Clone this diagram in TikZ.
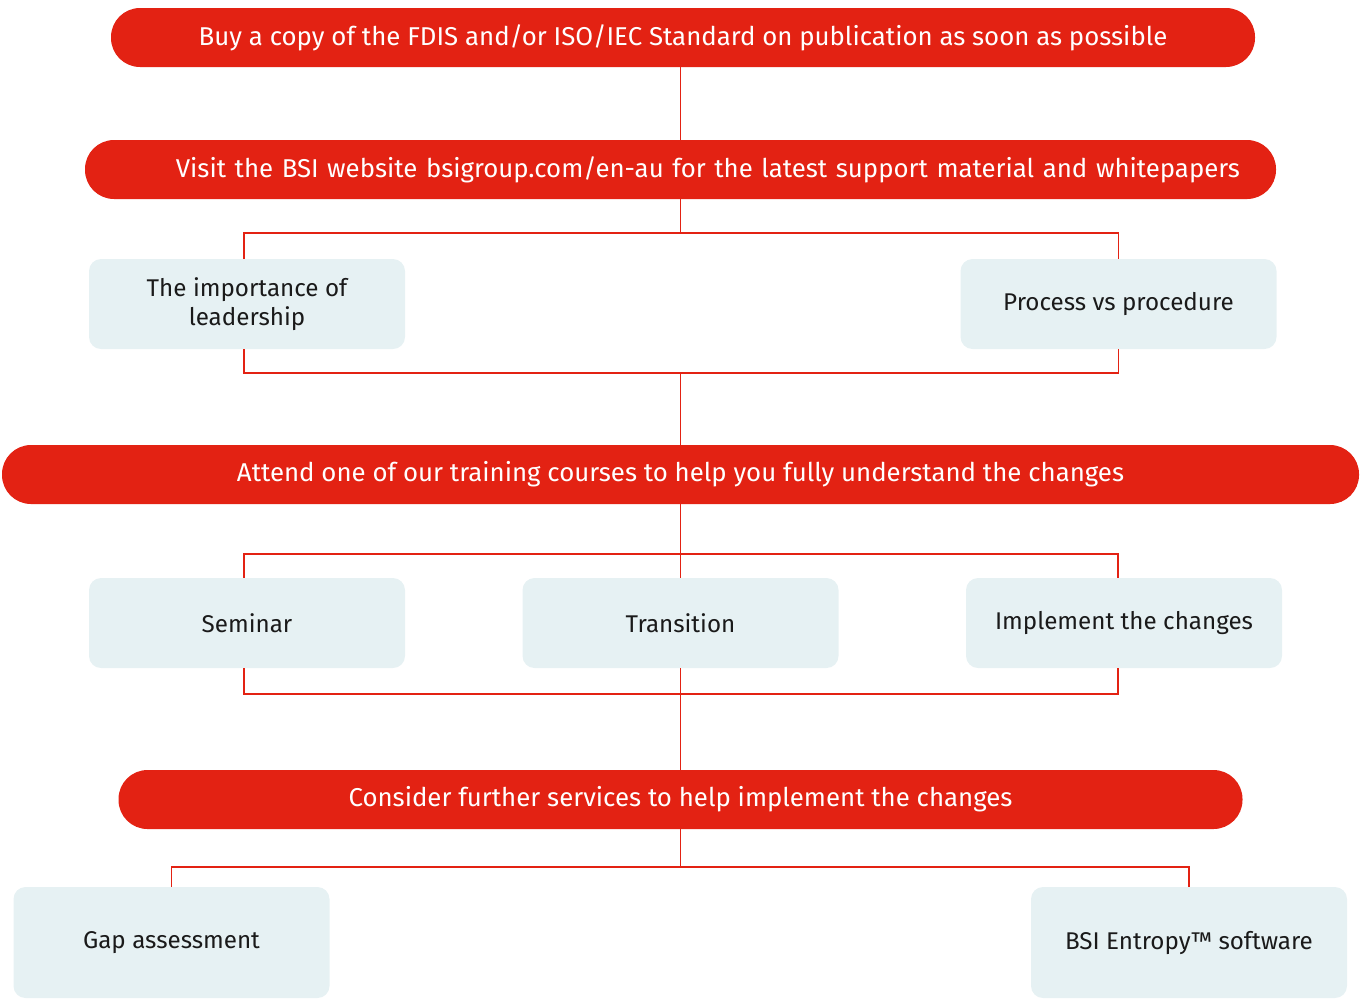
\documentclass[tikz,border=0pt]{standalone}
\usepackage{fontspec}
\setmainfont{Fira Sans}
\definecolor{bsired}{HTML}{E32213}
\definecolor{bsiice}{HTML}{E6F1F3}
\definecolor{bsiink}{HTML}{1A1A1A}
\begin{document}
\begin{tikzpicture}[x=0.5pt,y=-0.5pt,
    pill/.style={fill=bsired,text=white,rounded corners=14.5pt,minimum height=29.5pt,inner sep=0pt,font=\fontsize{12.9}{15}\selectfont},
    card/.style={fill=bsiice,text=bsiink,rounded corners=6pt,minimum width=158pt,minimum height=45pt,inner sep=0pt,align=center,font=\fontsize{12.1}{14.5}\selectfont},
    link/.style={draw=bsired,line width=0.7pt}]
\useasboundingbox (0,0) rectangle (1363,998);

% red bars
\node[pill,minimum width=572pt] (buy) at (683,37.5) {Buy a copy of the FDIS and/or ISO/IEC Standard on publication as soon as possible};
\node[pill,minimum width=595.5pt,text width=559.5pt,align=right] (visit) at (680.5,169.5) {Visit the BSI website bsigroup.com/en-au for the latest support material and whitepapers};
\node[pill,minimum width=678.5pt] (attend) at (680.5,474.5) {Attend one of our training courses to help you fully understand the changes};
\node[pill,minimum width=562pt] (further) at (680.5,799.5) {Consider further services to help implement the changes};

% light boxes
\node[card] (lead) at (247,304) {The importance of\\leadership};
\node[card] (proc) at (1118.5,304) {Process vs procedure};
\node[card] (semi) at (247,623) {Seminar};
\node[card] (trans) at (680.5,623) {Transition};
\node[card] (impl) at (1124,623) {Implement the changes};
\node[card,minimum height=55.5pt] (gap) at (171.5,942.5) {Gap assessment};
\node[card,minimum height=55.5pt] (entropy) at (1189,942.5) {BSI Entropy™ software};

\coordinate (busA) at (680.5,233);
\coordinate (busB) at (680.5,373);
\coordinate (busC) at (680.5,554);
\coordinate (busD) at (680.5,694);
\coordinate (busE) at (680.5,867);

\draw[link] (visit.north |- buy.south) -- (visit.north);
\draw[link] (visit.south) -- (busA);
\draw[link] ([xshift=-1.5pt]lead.north) |- (busA) -| (proc.north);
\draw[link] ([xshift=-1.5pt]lead.south) |- (busB) -| (proc.south);
\draw[link] (busB) -- (attend.north);
\draw[link] (attend.south) -- (trans.north);
\draw[link] ([xshift=-1.5pt]semi.north) |- (busC) -| ([xshift=-3pt]impl.north);
\draw[link] ([xshift=-1.5pt]semi.south) |- (busD) -| ([xshift=-3pt]impl.south);
\draw[link] (trans.south) -- (further.north);
\draw[link] (further.south) -- (busE);
\draw[link] (gap.north) |- (busE) -| (entropy.north);
\end{tikzpicture}
\end{document}
